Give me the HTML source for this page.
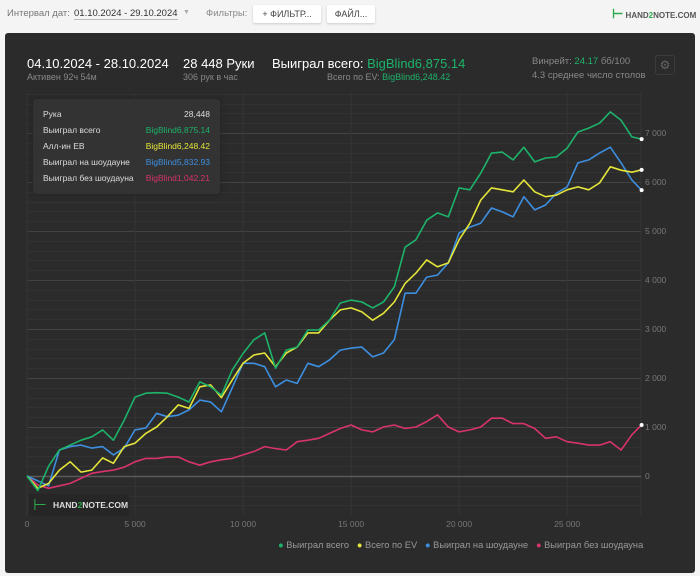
<!DOCTYPE html>
<html><head><meta charset="utf-8">
<style>
body{margin:0;width:700px;height:576px;background:#f4f4f4;font-family:"Liberation Sans",sans-serif;overflow:hidden;position:relative}
.t{position:absolute;white-space:nowrap}
</style></head>
<body>
<div class="t" style="left:7px;top:8px;font-size:9.5px;color:#777">Интервал дат:</div>
<div class="t" style="left:74px;top:8px;font-size:9.5px;color:#333;border-bottom:1px solid #bbb">01.10.2024 - 29.10.2024</div>
<div class="t" style="left:183px;top:9px;font-size:7px;color:#aaa">▼</div>
<div class="t" style="left:206px;top:8px;font-size:9.5px;color:#888">Фильтры:</div>
<div class="t" style="left:253px;top:5px;width:68px;height:18px;background:#fff;border-radius:2px;box-shadow:0 1px 2px #ccc;font-size:9px;color:#444;line-height:18px;text-align:center">+ ФИЛЬТР...</div>
<div class="t" style="left:327px;top:5px;width:48px;height:18px;background:#fff;border-radius:2px;box-shadow:0 1px 2px #ccc;font-size:9px;color:#444;line-height:18px;text-align:center">ФАЙЛ...</div>
<div class="t" style="left:612px;top:6px;font-size:8px;color:#555;font-weight:bold"><span style="color:#2bab4b;font-size:13px">⊢</span> HAND<span style="color:#2bab4b">2</span>NOTE.COM</div>

<div style="position:absolute;left:5px;top:33px;width:690px;height:540px;background:#2b2b2b;border-radius:3px"></div>
<div class="t" style="left:27px;top:56px;font-size:13px;color:#fff">04.10.2024 - 28.10.2024</div>
<div class="t" style="left:27px;top:72px;font-size:9px;color:#888">Активен 92ч 54м</div>
<div class="t" style="left:183px;top:56px;font-size:13px;color:#fff">28 448 Руки</div>
<div class="t" style="left:183px;top:72px;font-size:9px;color:#888">306 рук в час</div>
<div class="t" style="left:272px;top:56px;font-size:13px;color:#fff">Выиграл всего: <span style="color:#1db36a">BigBlind6,875.14</span></div>
<div class="t" style="left:327px;top:72px;font-size:9px;color:#888">Всего по EV: <span style="color:#1db36a">BigBlind6,248.42</span></div>
<div class="t" style="left:532px;top:56px;font-size:9.5px;color:#888">Винрейт: <span style="color:#1db36a">24.17</span> бб/100</div>
<div class="t" style="left:532px;top:70px;font-size:9.5px;color:#888">4.3 среднее число столов</div>
<div class="t" style="left:655px;top:55px;width:18px;height:18px;border:1px solid #3c3c3c;border-radius:3px;color:#666;font-size:12px;text-align:center;line-height:18px">⚙</div>

<svg id="chart" style="position:absolute;left:0;top:0" width="700" height="576"></svg>

<div style="position:absolute;left:33px;top:99px;width:187px;height:95px;background:#333;border-radius:4px;box-shadow:0 0 6px #222;font-size:8.5px;color:#ddd">
<div class="t" style="left:10px;top:10px">Рука</div><div class="t" style="right:10px;top:10px">28,448</div>
<div class="t" style="left:10px;top:26px">Выиграл всего</div><div class="t" style="right:10px;top:26px;color:#1db36a">BigBlind6,875.14</div>
<div class="t" style="left:10px;top:42px">Алл-ин EB</div><div class="t" style="right:10px;top:42px;color:#e5e53a">BigBlind6,248.42</div>
<div class="t" style="left:10px;top:58px">Выиграл на шоудауне</div><div class="t" style="right:10px;top:58px;color:#3d8fe0">BigBlind5,832.93</div>
<div class="t" style="left:10px;top:74px">Выиграл без шоудауна</div><div class="t" style="right:10px;top:74px;color:#d8336e">BigBlind1,042.21</div>
</div>

<div style="position:absolute;left:29px;top:494px;width:100px;height:22px;background:#262626"><span class="t" style="left:4px;top:1px;color:#2bab4b;font-size:16px">⊢</span><span class="t" style="left:24px;top:6px;color:#ddd;font-size:8.5px;font-weight:bold">HAND<span style="color:#2bab4b">2</span>NOTE.COM</span></div>

<div class="t" style="left:278px;top:540px;font-size:9.3px;color:#999">
<span style="color:#1db36a">●</span> Выиграл всего &nbsp;&nbsp;<span style="color:#e5e53a">●</span> Всего по EV &nbsp;&nbsp;<span style="color:#3d8fe0">●</span> Выиграл на шоудауне &nbsp;&nbsp;<span style="color:#d8336e">●</span> Выиграл без шоудауна</div>

<script>
const hands=[0,500,1000,1500,2000,2500,3000,3500,4000,4500,5000,5500,6000,6500,7000,7500,8000,8500,9000,9500,10000,10500,11000,11500,12000,12500,13000,13500,14000,14500,15000,15500,16000,16500,17000,17500,18000,18500,19000,19500,20000,20500,21000,21500,22000,22500,23000,23500,24000,24500,25000,25500,26000,26500,27000,27500,28000,28448];
const wonTotal=[0,-300,200,530,630,730,800,940,730,1140,1610,1690,1700,1690,1610,1510,1920,1820,1650,2160,2500,2780,2920,2200,2570,2630,2980,2980,3180,3530,3590,3550,3430,3550,3860,4670,4820,5220,5370,5290,5880,5840,6180,6590,6610,6450,6710,6410,6490,6510,6690,7020,7100,7200,7430,7260,6920,6875];
const allinEv=[0,-250,-150,120,290,80,120,370,260,600,670,870,1000,1210,1450,1380,1820,1860,1600,1960,2300,2470,2510,2230,2510,2630,2920,2920,3180,3390,3430,3350,3180,3320,3550,3930,4140,4410,4270,4350,4820,5160,5630,5880,5840,5800,6040,5800,5700,5730,5840,5900,5840,5980,6310,6240,6200,6248];
const wonShowdown=[0,-100,-200,530,600,630,570,600,430,570,940,980,1280,1210,1240,1350,1550,1510,1310,1800,2300,2300,2230,1820,1960,1890,2300,2230,2370,2570,2610,2630,2430,2510,2780,3730,3730,4060,4100,4350,4960,5080,5160,5470,5390,5290,5700,5430,5530,5770,5900,6390,6450,6590,6710,6390,6040,5833];
const wonNoShowdown=[0,-184,-250,-200,-150,-50,55,90,120,180,290,360,360,390,390,290,220,290,330,360,430,500,600,560,530,700,730,770,870,970,1040,940,900,1000,1040,970,1000,1110,1250,1000,900,940,1000,1180,1180,1070,1070,970,770,800,700,670,630,630,700,530,840,1042];
const yTicks=[0,1000,2000,3000,4000,5000,6000,7000];
const yTickLabels=["0","1 000","2 000","3 000","4 000","5 000","6 000","7 000"];
const xTicks=[0,5000,10000,15000,20000,25000];
const xTickLabels=["0","5 000","10 000","15 000","20 000","25 000"];

const svg=document.getElementById('chart');const NS='http://www.w3.org/2000/svg';
const X=h=>27+h*0.021605, Y=v=>476-v*0.049;
function mk(t,a,p){const e=document.createElementNS(NS,t);for(const k in a)e.setAttribute(k,a[k]);(p||svg).appendChild(e);return e;}
for(let v=-800;v<=8600;v+=200){const y=Math.round(Y(v))+0.5;if(y<93||y>515)continue;
 const l=mk('line',{x1:27,x2:641,y1:y,y2:y,stroke:v%1000===0?'#424242':'#323232','stroke-width':1});
 }
xTicks.forEach((h,i)=>{const l=mk('line',{x1:X(h),x2:X(h),y1:93,y2:515,stroke:'#353535'});
 
 const t=mk('text',{x:X(h),y:527,fill:'#777','font-size':8.5,'text-anchor':'middle'});t.textContent=xTickLabels[i];
 });
mk('line',{x1:641,x2:641,y1:93,y2:515,stroke:'#353535'});
mk('line',{x1:27,x2:641,y1:Math.round(Y(0))+0.5,y2:Math.round(Y(0))+0.5,stroke:'#5a5a5a','stroke-width':1.5});
yTicks.forEach((v,i)=>{const t=mk('text',{x:645,y:Y(v)+3,fill:'#777','font-size':8.5});t.textContent=yTickLabels[i];
 });
const series=[[wonNoShowdown,'#d8336e','line-won-no-showdown'],[wonShowdown,'#3d8fe0','line-won-showdown'],[allinEv,'#e5e53a','line-allin-ev'],[wonTotal,'#1db36a','line-won-total']];
series.forEach(s=>{const d=s[0].map((v,i)=>(i?'L':'M')+X(hands[i]).toFixed(1)+','+Y(v).toFixed(1)).join('');
 const p=mk('path',{d:d,fill:'none',stroke:s[1],'stroke-width':1.6,'stroke-linejoin':'round'});
 
 const n=s[0].length-1;const c=mk('circle',{cx:X(hands[n]),cy:Y(s[0][n]),r:2,fill:'#fff'});
 });
</script>
</body></html>
